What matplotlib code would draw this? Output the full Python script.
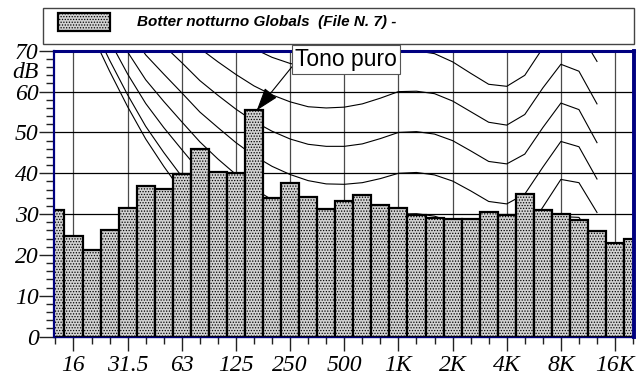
import numpy as np
import matplotlib.pyplot as plt
import matplotlib.font_manager as fm
from matplotlib.patches import Rectangle
from matplotlib.ticker import FixedLocator, MultipleLocator
import matplotlib.transforms as mtransforms

plt.rcParams['hatch.color'] = '#9a9a9a'
plt.rcParams['hatch.linewidth'] = 0.6

# third-octave bands 12.5 Hz .. 20 kHz
bands = ['12.5', '16', '20', '25', '31.5', '40', '50', '63', '80', '100',
         '125', '160', '200', '250', '315', '400', '500', '630', '800', '1K',
         '1.25K', '1.6K', '2K', '2.5K', '3.15K', '4K', '5K', '6.3K', '8K', '10K',
         '12.5K', '16K', '20K']
levels = [31.1, 24.6, 21.3, 26.1, 31.4, 36.8, 36.1, 39.9, 45.9, 40.3,
          40.1, 55.4, 34.0, 37.6, 34.1, 31.2, 33.2, 34.6, 32.2, 31.4,
          29.7, 29.1, 28.9, 28.7, 30.4, 29.7, 34.9, 31.0, 30.0, 28.5,
          25.9, 23.0, 23.8]
octave_labels = ['16', '31.5', '63', '125', '250', '500', '1K', '2K', '4K', '8K', '16K']
db_labels = ['0', '10', '20', '30', '40', '50', '60', '70']

# isophonic curves, 20 Hz .. 12.5 kHz
maf = [74.3, 65.0, 56.3, 48.4, 41.7, 35.5, 29.8, 25.1, 20.7, 16.8, 13.8, 11.2, 8.9, 7.2, 6.0,
       5.0, 4.4, 4.2, 3.7, 2.6, 1.0, -1.2, -3.6, -3.9, -1.1, 6.6, 15.3, 16.4, 11.6]
phon10 = [76.8, 67.7, 59.2, 51.5, 45.1, 39.2, 33.7, 29.1, 24.8, 21.0, 18.1, 15.6, 13.4, 11.9, 10.9,
          10.1, 9.9, 10.0, 9.7, 8.7, 7.2, 5.0, 2.6, 2.2, 4.8, 12.2, 20.4, 21.0, 15.5]
phon20 = [81.3, 72.5, 64.3, 57.1, 51.2, 45.8, 40.5, 36.2, 32.1, 28.5, 25.7, 23.3, 21.4, 20.1, 19.4,
          19.1, 19.4, 20.0, 19.9, 19.2, 17.7, 15.4, 13.0, 12.5, 15.0, 22.0, 29.4, 29.2, 22.7]
phon30 = [86.0, 77.6, 69.7, 62.9, 57.6, 52.6, 47.7, 43.5, 39.7, 36.2, 33.5, 31.4, 29.6, 28.6, 28.2,
          28.3, 29.0, 30.0, 30.1, 29.5, 28.0, 25.7, 23.2, 22.6, 25.0, 31.7, 38.5, 37.7, 30.4]
phon40 = [91.0, 82.9, 75.4, 69.0, 64.3, 59.7, 55.0, 51.2, 47.5, 44.3, 41.7, 39.7, 38.2, 37.4, 37.3,
          37.7, 38.7, 40.0, 40.2, 39.6, 38.1, 35.7, 33.1, 32.5, 34.9, 41.5, 47.8, 46.5, 38.6]
phon50 = [96.2, 88.5, 81.3, 75.4, 71.3, 67.1, 62.7, 59.1, 55.7, 52.7, 50.3, 48.4, 47.1, 46.6, 46.6,
          47.2, 48.5, 50.0, 50.2, 49.6, 48.0, 45.5, 42.9, 42.3, 44.7, 51.2, 57.2, 55.6, 47.5]
phon60 = [101.7, 94.4, 87.6, 82.1, 78.6, 74.8, 70.6, 67.3, 64.2, 61.4, 59.2, 57.5, 56.3, 56.0, 56.2,
          57.0, 58.4, 60.0, 60.1, 59.5, 57.7, 55.1, 52.5, 51.8, 54.4, 60.9, 66.7, 65.0, 57.0]
phon70 = [107.6, 100.7, 94.3, 89.2, 86.4, 82.8, 78.8, 75.8, 73.0, 70.5, 68.4, 66.9, 66.0, 65.8, 66.0,
          67.0, 68.4, 70.0, 70.0, 69.3, 67.3, 64.5, 61.8, 61.3, 64.0, 70.7, 76.4, 74.8, 67.4]
curves = [maf, phon10, phon20, phon30, phon40, phon50, phon60, phon70]

x = np.arange(len(bands))
x_curve = np.arange(bands.index('20'), bands.index('12.5K') + 1)
oct_pos = [bands.index(b) for b in octave_labels]

# Times-like italic for the axis numbers
ital = [f for f in fm.findSystemFonts() if 'LiberationSerif-Italic' in f]
if ital:
    fp = fm.FontProperties(fname=ital[0], size=17)
else:
    fp = fm.FontProperties(family='DejaVu Serif', style='italic', size=16)

fig = plt.figure(figsize=(6.39, 3.78), dpi=100)
ax = fig.add_axes([54 / 639, 1 - 336.6 / 378, 580 / 639, 285.8 / 378])

for c in curves:
    ax.plot(x_curve, c, color='black', lw=0.8, zorder=2)

ax.bar(x, levels, width=1.0, facecolor='#d2d2d2', edgecolor='black',
       linewidth=1.6, hatch='......', zorder=3)

ax.set_xlim(-0.08, 32.05)
ax.set_ylim(0, 70)
ax.set_axisbelow(True)

ax.xaxis.set_major_locator(FixedLocator(oct_pos))
ax.xaxis.set_minor_locator(FixedLocator(x))
ax.set_xticklabels(octave_labels, fontproperties=fp)
ax.yaxis.set_major_locator(FixedLocator(range(0, 71, 10)))
ax.set_yticklabels(db_labels, fontproperties=fp)
ax.yaxis.set_minor_locator(MultipleLocator(2))

ax.yaxis.grid(True, color='black', lw=0.9)
ax.xaxis.grid(True, color='#4a4a4a', lw=0.9)

ax.tick_params(axis='both', which='both', direction='out', color='#222222', width=1)
ax.tick_params(axis='y', which='major', length=11, pad=0)
ax.tick_params(axis='y', which='minor', length=6)
ax.tick_params(axis='x', which='major', length=10, pad=3)
ax.tick_params(axis='x', which='minor', length=5)

trans = mtransforms.blended_transform_factory(ax.transAxes, ax.transData)
ax.text(-0.026, 64.6, 'dB', transform=trans, ha='right', va='center',
        fontproperties=fp)

for side, w in [('top', 2.2), ('right', 2.8), ('left', 1.6), ('bottom', 1.0)]:
    ax.spines[side].set_color('#000080')
    ax.spines[side].set_linewidth(w)
    ax.spines[side].set_zorder(4)

peak = levels.index(max(levels))
ax.annotate('Tono puro', xy=(peak + 0.15, levels[peak]), xytext=(16.1, 67.9),
            ha='center', va='center', fontsize=16.5, fontfamily='Liberation Sans',
            bbox=dict(boxstyle='square,pad=0.12', fc='white', ec='#555555', lw=0.8),
            arrowprops=dict(arrowstyle='-|>,head_length=0.9,head_width=0.3',
                            mutation_scale=16, color='black', lw=0.8,
                            relpos=(0, 0.35), shrinkA=0, shrinkB=0),
            annotation_clip=False, zorder=10)

# legend box on top
fig.patches.append(Rectangle((43 / 639, 1 - 44 / 378), 591 / 639, 36 / 378,
                             transform=fig.transFigure, fill=False, ec='#444444', lw=1))
fig.patches.append(Rectangle((58 / 639, 1 - 31 / 378), 52 / 639, 18 / 378,
                             transform=fig.transFigure, fc='#d2d2d2', ec='black',
                             lw=1.6, hatch='......'))
fig.text(137 / 639, 1 - 22 / 378, 'Botter notturno Globals  (File N. 7) -',
         fontsize=11, fontweight='bold', fontstyle='italic', fontfamily='Liberation Sans',
         va='center')

fig.savefig('out.png', dpi=100)
